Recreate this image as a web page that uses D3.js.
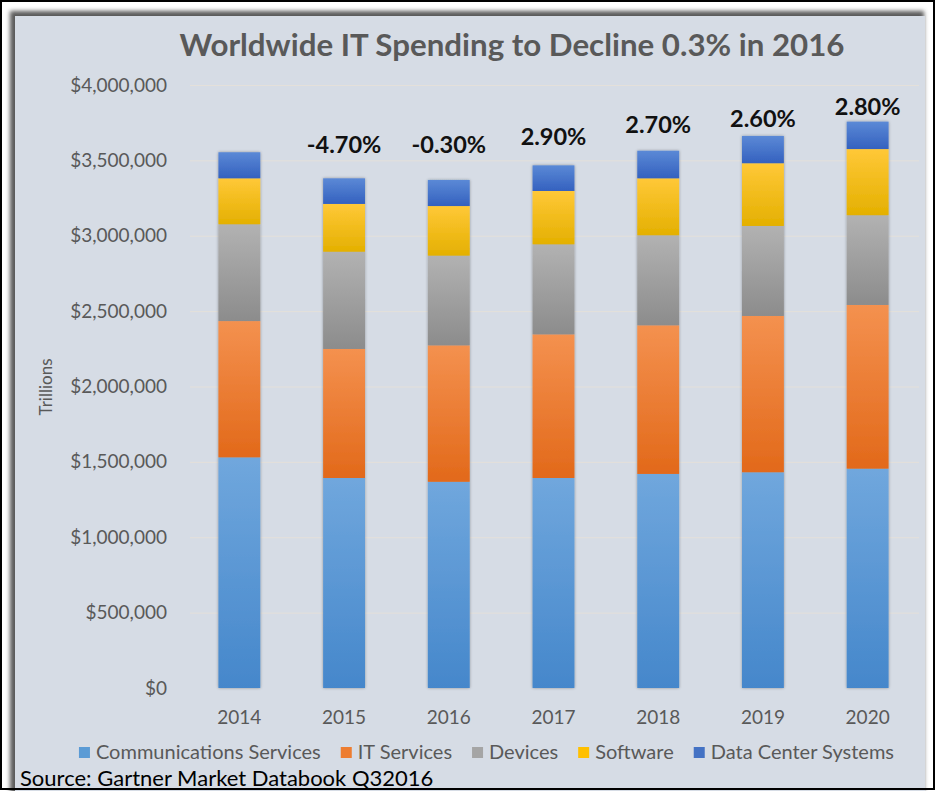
<!DOCTYPE html>
<html><head><meta charset="utf-8">
<script src="https://cdn.jsdelivr.net/npm/d3@7"></script>
<style>
html,body{margin:0;padding:0;background:#fff;}
svg{display:block;font-family:Lato,"Open Sans",sans-serif;}
</style></head><body>
<svg id="chart" width="936" height="791"></svg>
<script>
// ---- data ----
const years = ["2014","2015","2016","2017","2018","2019","2020"];
const seriesNames = ["Communications Services","IT Services","Devices","Software","Data Center Systems"];
const commServices = [1530000,1393000,1368000,1393000,1420000,1431000,1455000];
const itServices   = [904000, 856000, 905000, 953000, 986000, 1037000,1086000];
const devices      = [642000, 645000, 595000, 597000, 597000, 597000, 595000];
const software     = [305000, 317000, 329000, 354000, 378000, 416000, 439000];
const dataCenter   = [173000, 170000, 173000, 170000, 183000, 181000, 182000];
const growthLabels  = ["","-4.70%","-0.30%","2.90%","2.70%","2.60%","2.80%"];
const growthLabelAt = [null,3551000,3551000,3602000,3680000,3719000,3801000];
const yTicks = [0,500000,1000000,1500000,2000000,2500000,3000000,3500000,4000000];
const titleText = "Worldwide IT Spending to Decline 0.3% in 2016";
const yAxisTitle = "Trillions";
const sourceText = "Source: Gartner Market Databook Q32016";

// ---- build table ----
const seriesValues = [commServices, itServices, devices, software, dataCenter];
const table = years.map((yr,i)=>{
  const row = {year: yr};
  seriesNames.forEach((s,k)=>row[s]=seriesValues[k][i]);
  return row;
});
const stacked = d3.stack().keys(seriesNames)(table);

const legendColors = ["#5b9bd5","#ed7d31","#a5a5a5","#ffc000","#4472c4"];
const gradStops = [["#70a7dd","#4587cb"],["#f4914f","#e2691a"],["#b2b2b2","#8c8c8c"],["#ffc838","#e4b000"],["#5b89d6","#3461bf"]];

const svg = d3.select("#chart");
const defs = svg.append("defs");

gradStops.forEach((g,i)=>{
  const lg = defs.append("linearGradient").attr("id","grad"+i).attr("x1",0).attr("y1",0).attr("x2",0).attr("y2",1);
  lg.append("stop").attr("offset","0%").attr("stop-color",g[0]);
  lg.append("stop").attr("offset","100%").attr("stop-color",g[1]);
});
const bf = defs.append("filter").attr("id","barShadow").attr("x","-30%").attr("y","-5%").attr("width","160%").attr("height","110%");
bf.append("feGaussianBlur").attr("in","SourceAlpha").attr("stdDeviation",1.6).attr("result","b");
bf.append("feComponentTransfer").attr("in","b").attr("result","c").append("feFuncA").attr("type","linear").attr("slope",0.35);
const bm = bf.append("feMerge"); bm.append("feMergeNode").attr("in","c"); bm.append("feMergeNode").attr("in","SourceGraphic");
const pf = defs.append("filter").attr("id","panelShadow").attr("x","-5%").attr("y","-5%").attr("width","110%").attr("height","110%");
pf.append("feGaussianBlur").attr("stdDeviation",2);

// ---- frame ----
svg.append("rect").attr("x",0).attr("y",0).attr("width",936).attr("height",791).attr("fill","#fff");
svg.append("rect").attr("x",10).attr("y",11).attr("width",914).attr("height",790).attr("fill","#5a5a5a").attr("filter","url(#panelShadow)");
svg.append("rect").attr("x",15).attr("y",16).attr("width",910).attr("height",780).attr("fill","#d6dce5");

// ---- scales ----
const x = d3.scaleBand().domain(years).range([187,920]).paddingInner(0.6).paddingOuter(0.3);
const y = d3.scaleLinear().domain([0,4000000]).range([688,85]);

// gridlines
svg.append("g").selectAll("line").data(yTicks.slice(1)).join("line")
  .attr("x1",190).attr("x2",919).attr("y1",d=>y(d)+0.5).attr("y2",d=>y(d)+0.5)
  .attr("stroke","#e4e0da").attr("stroke-width",1);

// y axis
const yAxis = svg.append("g").attr("transform","translate(187,0)")
  .call(d3.axisLeft(y).tickValues(yTicks).tickFormat(d3.format("$,.0f")).tickSize(0).tickPadding(20));
yAxis.select(".domain").remove();
yAxis.selectAll("text").attr("font-family","Lato,'Open Sans',sans-serif").attr("font-size",19).attr("fill","#595959");

// x axis labels
const xAxis = svg.append("g").attr("transform","translate(0,688)")
  .call(d3.axisBottom(x).tickSize(0).tickPadding(0));
xAxis.select(".domain").remove();
xAxis.selectAll("text").attr("font-family","Lato,'Open Sans',sans-serif").attr("font-size",19).attr("fill","#595959")
  .attr("y",36).attr("dy",0);

// bars
const barsG = svg.append("g").attr("filter","url(#barShadow)");
stacked.forEach((layer,k)=>{
  barsG.append("g").selectAll("rect").data(layer).join("rect")
    .attr("x",d=>x(d.data.year)).attr("width",x.bandwidth())
    .attr("y",d=>y(d[1])).attr("height",d=>y(d[0])-y(d[1]))
    .attr("fill","url(#grad"+k+")");
});

// growth labels
svg.append("g").selectAll("text").data(years.map((yr,i)=>({yr,label:growthLabels[i],at:growthLabelAt[i]})).filter(d=>d.label))
  .join("text")
  .attr("x",d=>x(d.yr)+x.bandwidth()/2).attr("y",d=>y(d.at))
  .attr("text-anchor","middle").attr("font-weight","bold").attr("font-size",23.5).attr("fill","#111")
  .text(d=>d.label);

// title
svg.append("text").attr("x",512).attr("y",56).attr("text-anchor","middle")
  .attr("font-size",30.5).attr("font-weight","bold").attr("fill","#595959")
  .attr("textLength",665).attr("lengthAdjust","spacingAndGlyphs").text(titleText);

// y axis title
svg.append("text").attr("transform","translate(52,387) rotate(-90)").attr("text-anchor","middle")
  .attr("font-size",17).attr("fill","#595959").text(yAxisTitle);

// legend
const leg = svg.append("g").attr("transform","translate(0,759)");
const items = leg.selectAll("g").data(seriesNames).join("g");
items.append("rect").attr("y",-12).attr("width",11).attr("height",11).attr("fill",(d,i)=>legendColors[i]);
items.append("text").attr("x",17).attr("font-size",20).attr("fill","#595959").text(d=>d);
let widths = [];
items.each(function(){ widths.push(this.getBBox().width); });
const gap = 20;
const total = d3.sum(widths) + gap*(widths.length-1);
let cx = 486.5 - total/2;
items.attr("transform",(d,i)=>{ const t = "translate("+cx+",0)"; cx += widths[i]+gap; return t; });

// source
svg.append("text").attr("x",20).attr("y",786).attr("font-size",22).attr("fill","#000").text(sourceText);

// outer border
svg.append("rect").attr("x",1).attr("y",1).attr("width",933).attr("height",788).attr("fill","none").attr("stroke","#000").attr("stroke-width",2);
</script>
</body></html>
